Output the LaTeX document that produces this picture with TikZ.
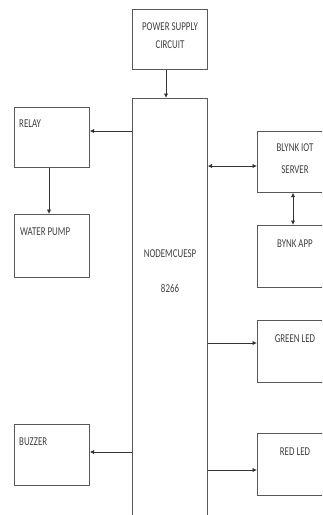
\documentclass[tikz,border=0pt]{standalone}
\usepackage{fontspec}
\setmainfont[FakeStretch=0.74]{Carlito}
\usetikzlibrary{arrows.meta}
\begin{document}
\begin{tikzpicture}[x=1pt,y=-1pt,
  box/.style={draw=black!65,line width=0.7pt,rectangle,anchor=north west,inner sep=0pt,minimum width=75pt,minimum height=60pt},
  lbl/.style={font=\fontsize{12}{13}\selectfont,text=black!75,inner sep=0pt},
  conn/.style={draw=black!80,line width=0.9pt,-{Latex[length=4.5pt,width=4.5pt]}},
  dconn/.style={draw=black!80,line width=0.9pt,{Latex[length=4.5pt,width=4.5pt]}-{Latex[length=4.5pt,width=4.5pt]}}]
\useasboundingbox (0,0) rectangle (322,515);
\clip (0,0) rectangle (322,515);
% boxes
\node[box] (ps) at (132,9) {};
\node[box,minimum height=430pt] (mcu) at (132,98) {};
\node[box] (relay) at (14,107) {};
\node[box,minimum height=63pt] (pump) at (14,214) {};
\node[box,minimum height=61pt] (buzzer) at (14,424) {};
\node[box,minimum height=61pt] (server) at (257,131) {};
\node[box,minimum height=62pt] (app) at (257,225) {};
\node[box,minimum height=62pt] (green) at (257,320) {};
\node[box,minimum height=62pt] (red) at (257,433) {};
% labels
\node[lbl] (tps1) at (170,26.5) {POWER SUPPLY};
\node[lbl] (tps2) at (170,44.5) {CIRCUIT};
\node[lbl,anchor=west] (trelay) at (19,123.5) {RELAY};
\node[lbl,anchor=west] (tpump) at (20,232) {WATER PUMP};
\node[lbl,anchor=west] (tbuzz) at (19,442) {BUZZER};
\node[lbl] (tmcu1) at (170,253.5) {NODEMCUESP};
\node[lbl] (tmcu2) at (170,288.5) {8266};
\node[lbl] (tsrv1) at (295,148) {BLYNK IOT};
\node[lbl] (tsrv2) at (295,170) {SERVER};
\node[lbl] (tapp) at (295,243.5) {BYNK APP};
\node[lbl] (tgreen) at (295,339) {GREEN LED};
\node[lbl] (tred) at (295,452) {RED LED};
% connectors
\draw[conn] (ps.south -| 166,0) -- (mcu.north -| 166,0);
\draw[conn] (mcu.west |- 0,131) -- (relay.east |- 0,131);
\draw[conn] (relay.south -| 49,0) -- (pump.north -| 49,0);
\draw[dconn] (mcu.east |- 0,166) -- (server.west |- 0,166);
\draw[dconn] (server.south -| 293,0) -- (app.north -| 293,0);
\draw[conn] (mcu.east |- 0,343) -- (green.west |- 0,343);
\draw[conn] (mcu.east |- 0,470) -- (red.west |- 0,470);
\draw[conn] (mcu.west |- 0,452) -- (buzzer.east |- 0,452);
\end{tikzpicture}
\end{document}
